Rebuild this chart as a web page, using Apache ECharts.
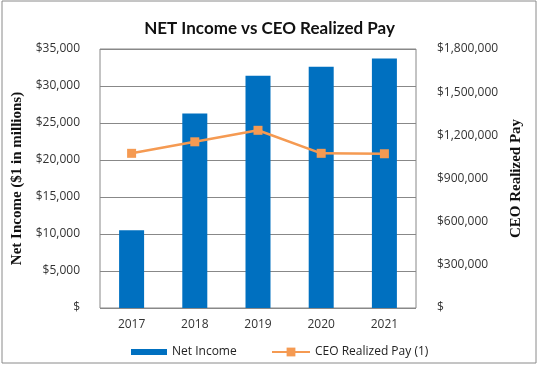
<!DOCTYPE html>
<html><head><meta charset="utf-8">
<script src="https://cdn.jsdelivr.net/npm/echarts@6/dist/echarts.min.js"></script>
<style>html,body{margin:0;padding:0;background:#fff}#c{width:539px;height:367px}</style>
</head><body><div id="c"></div>
<script>
const years = ['2017','2018','2019','2020','2021'];
const netIncome = [10500, 26300, 31400, 32600, 33700];
const ceoPay = [1075000, 1155000, 1235000, 1075000, 1072000];
const leftTicks = {min: 0, max: 35000, interval: 5000};
const rightTicks = {min: 0, max: 1800000, interval: 300000};

function fmt(v){ return v === 0 ? '$' : '$' + v.toLocaleString('en-US'); }

const legendText = {fontFamily: 'Open Sans', fontSize: 12, color: '#222', lineHeight: 16};
const chart = echarts.init(document.getElementById('c'), null, {renderer:'canvas'});
chart.setOption({
  animation: false,
  backgroundColor: '#fff',
  title: {
    text: 'NET Income vs CEO Realized Pay', left: 'center', top: 15,
    textStyle: {fontFamily: 'Lato', fontWeight: 'bold', fontSize: 17, color: '#111'}
  },
  graphic: [{type:'rect', shape:{x:2,y:1,width:534,height:362}, style:{fill:'none', stroke:'#8a8a8a', lineWidth:1}, silent:true}],
  grid: {left: 100, right: 123, top: 49, bottom: 59, show: true, borderColor: '#888', borderWidth: 1},
  legend: [{
    top: 339, left: 126, itemWidth: 36, itemHeight: 6, itemGap: 6, padding: 5,
    textStyle: legendText,
    data: [{name: 'Net Income', icon: 'rect'}]
  }, {
    top: 339, left: 266, itemWidth: 38, itemHeight: 11, itemGap: 6, padding: 5,
    textStyle: legendText,
    data: [{name: 'CEO Realized Pay (1)'}]
  }],
  xAxis: {
    type: 'category', data: years,
    axisLine: {show: false}, axisTick: {show: false},
    axisLabel: {margin: 11, fontFamily: 'Open Sans', fontSize: 12, color: '#333'}
  },
  yAxis: [{
    type: 'value', min: leftTicks.min, max: leftTicks.max, interval: leftTicks.interval,
    name: 'Net Income ($1 in millions)', nameLocation: 'middle', nameGap: 72, nameRotate: 90,
    nameTextStyle: {fontFamily: 'Liberation Serif', fontWeight: 'bold', fontSize: 15, color: '#111'},
    axisLine: {show: false}, axisTick: {show: false},
    splitLine: {lineStyle: {color: '#888', width: 1}},
    axisLabel: {formatter: fmt, margin: 20, fontFamily: 'Open Sans', fontSize: 12, color: '#333'}
  }, {
    type: 'value', min: rightTicks.min, max: rightTicks.max, interval: rightTicks.interval,
    name: 'CEO Realized Pay', nameLocation: 'middle', nameGap: 86, nameRotate: 90,
    nameTextStyle: {fontFamily: 'Liberation Serif', fontWeight: 'bold', fontSize: 15, color: '#111'},
    axisLine: {show: false}, axisTick: {show: false}, splitLine: {show: false},
    axisLabel: {formatter: fmt, align: 'left', margin: 21, fontFamily: 'Open Sans', fontSize: 12, color: '#333'}
  }],
  series: [{
    name: 'Net Income', type: 'bar', data: netIncome, barWidth: 25,
    itemStyle: {color: '#0070C0'}
  }, {
    name: 'CEO Realized Pay (1)', type: 'line', yAxisIndex: 1, data: ceoPay,
    symbol: 'rect', symbolSize: 9, lineStyle: {color: '#F59A52', width: 2.5},
    itemStyle: {color: '#F59A52'}
  }]
});
</script></body></html>
